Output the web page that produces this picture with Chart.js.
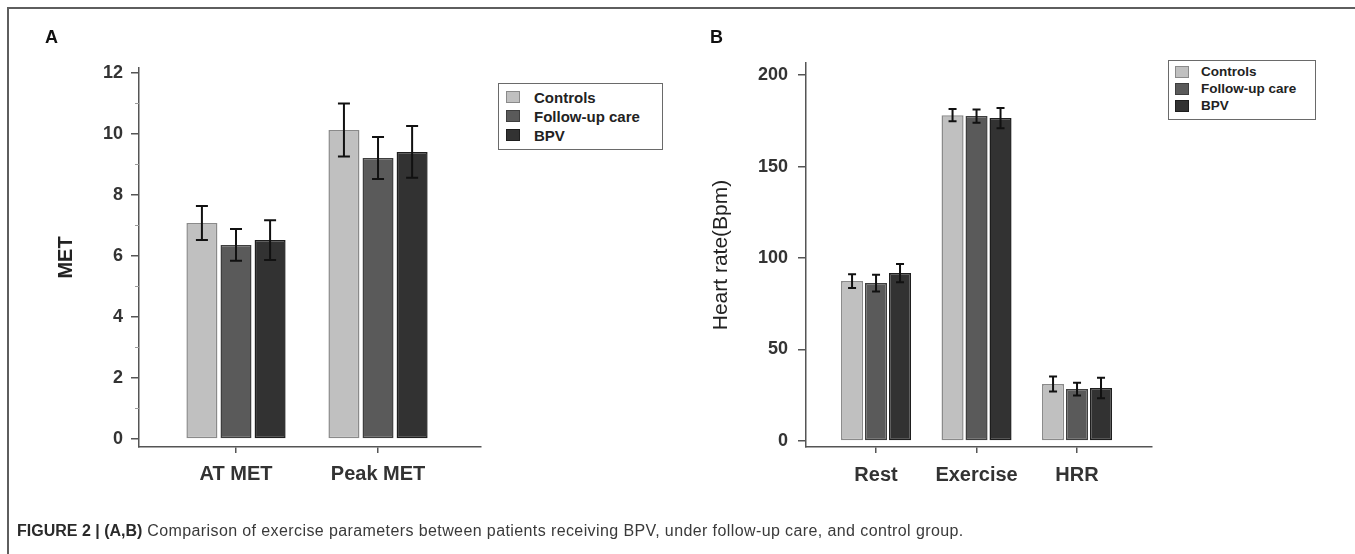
<!DOCTYPE html>
<html><head><meta charset="utf-8">
<script src="https://cdn.jsdelivr.net/npm/chart.js@4.4.1/dist/chart.umd.min.js"></script>
<style>
html,body{margin:0;padding:0;background:#fff;width:1355px;height:554px;overflow:hidden;font-family:"Liberation Sans",Arial,sans-serif;}
#frame{position:absolute;left:7px;top:7px;width:1400px;height:600px;border:2px solid #5e5e5e;box-sizing:border-box;}
canvas{position:absolute;top:0;}
#cA{left:0px}
#cB{left:660px}
.panel{position:absolute;font-weight:bold;font-size:18px;line-height:18px;color:#111;}
.legend{position:absolute;border:1.5px solid #6a6a6a;box-sizing:border-box;background:#fff;}
.row{position:absolute;font-weight:bold;color:#222;white-space:nowrap;}
.sw{position:absolute;box-sizing:border-box;border:1px solid #555;}
#caption{position:absolute;left:17px;top:523px;font-size:16px;line-height:16px;color:#3a3a3a;white-space:nowrap;letter-spacing:0.4px;}
#caption b{color:#2a2a2a;letter-spacing:0;}
</style></head>
<body>
<div id="frame"></div>
<canvas id="cA" width="660" height="554"></canvas>
<canvas id="cB" width="695" height="554"></canvas>
<div class="panel" style="left:45px;top:28px;">A</div>
<div class="panel" style="left:710px;top:28px;">B</div>
<div id="legA"></div>
<div id="legB"></div>
<div id="caption"><b>FIGURE 2 | (A,B)</b> Comparison of exercise parameters between patients receiving BPV, under follow-up care, and control group.</div>
<script>
// ---------- data ----------
const groups = ['Controls', 'Follow-up care', 'BPV'];

const metCategories = ['AT MET', 'Peak MET'];
const metControls = [7.08, 10.13];
const metFollowUp = [6.36, 9.21];
const metBPV = [6.52, 9.41];
const metControlsErr = [0.56, 0.87];
const metFollowUpErr = [0.52, 0.69];
const metBPVErr = [0.65, 0.85];
const metTicks = [0, 2, 4, 6, 8, 10, 12];
const metMinorTicks = [1, 3, 5, 7, 9, 11];

const hrCategories = ['Rest', 'Exercise', 'HRR'];
const hrControls = [87.4, 178.1, 31.1];
const hrFollowUp = [86.3, 177.6, 28.4];
const hrBPV = [91.8, 176.5, 29.0];
const hrControlsErr = [3.8, 3.3, 4.1];
const hrFollowUpErr = [4.6, 3.6, 3.5];
const hrBPVErr = [5.0, 5.5, 5.6];
const hrTicks = [0, 50, 100, 150, 200];

// ---------- styles ----------
const FONT = '"Liberation Sans", Arial, sans-serif';
const fills = ['#c0c0c0', '#5a5a5a', '#323232'];
const borders = ['#8a8a8a', '#3e3e3e', '#1e1e1e'];
const AXIS = '#555555';

const errorBars = {
  id: 'errorBars',
  afterDatasetsDraw(chart, args, opts) {
    const ctx = chart.ctx, ys = chart.scales.y;
    ctx.save();
    ctx.strokeStyle = '#111';
    ctx.lineWidth = opts.lineWidth || 2;
    chart.data.datasets.forEach((ds, i) => {
      const meta = chart.getDatasetMeta(i);
      meta.data.forEach((bar, j) => {
        const v = ds.data[j].y, e = ds.err[j];
        const t = ys.getPixelForValue(v + e), b = ys.getPixelForValue(v - e);
        const x = bar.x, c = opts.cap / 2;
        ctx.beginPath();
        ctx.moveTo(x, t); ctx.lineTo(x, b);
        ctx.moveTo(x - c, t); ctx.lineTo(x + c, t);
        ctx.moveTo(x - c, b); ctx.lineTo(x + c, b);
        ctx.stroke();
      });
    });
    ctx.restore();
  }
};

const minorTicks = {
  id: 'minorTicks',
  afterDraw(chart, args, opts) {
    if (!opts.values || !opts.values.length) return;
    const ctx = chart.ctx, ys = chart.scales.y, x0 = chart.chartArea.left;
    ctx.save();
    ctx.strokeStyle = '#999';
    ctx.lineWidth = 1;
    opts.values.forEach(v => {
      const y = Math.round(ys.getPixelForValue(v)) + 0.5;
      ctx.beginPath(); ctx.moveTo(x0 - 4, y); ctx.lineTo(x0, y); ctx.stroke();
    });
    ctx.restore();
  }
};

function makeChart(id, cfg) {
  const datasets = cfg.series.map((vals, i) => ({
    label: groups[i],
    data: vals.map((v, j) => ({x: j, y: v})),
    err: cfg.errors[i],
    backgroundColor: fills[i],
    borderColor: borders[i],
    borderWidth: 1.5,
    borderSkipped: false,
    categoryPercentage: cfg.catPct,
    barPercentage: cfg.barPct
  }));
  return new Chart(document.getElementById(id), {
    type: 'bar',
    data: {datasets},
    plugins: [errorBars, minorTicks],
    options: {
      responsive: false,
      animation: false,
      devicePixelRatio: 1,
      layout: {padding: cfg.padding},
      plugins: {
        legend: {display: false},
        tooltip: {enabled: false},
        errorBars: {cap: cfg.cap, lineWidth: 2},
        minorTicks: {values: cfg.minor}
      },
      scales: {
        x: {
          type: 'linear',
          min: cfg.xMin, max: cfg.xMax,
          offset: false,
          afterBuildTicks: ax => { ax.ticks = cfg.categories.map((c, j) => ({value: j})); },
          afterFit: ax => { ax.height = 50; },
          border: {display: true, color: AXIS, width: 1.5},
          grid: {offset: false, drawOnChartArea: false, drawTicks: true, tickLength: 6, color: AXIS, lineWidth: 1.5},
          ticks: {
            autoSkip: false, maxRotation: 0, padding: cfg.xPad,
            color: '#333', font: {family: FONT, size: 20, weight: 'bold'},
            callback: v => cfg.categories[v]
          }
        },
        y: {
          type: 'linear',
          min: cfg.yMin, max: cfg.yMax,
          afterBuildTicks: ax => { ax.ticks = cfg.ticks.map(v => ({value: v})); },
          afterFit: ax => { ax.width = cfg.yWidth; },
          border: {display: true, color: AXIS, width: 1.5},
          grid: {drawOnChartArea: false, drawTicks: true, tickLength: 8, color: AXIS, lineWidth: 1.5},
          ticks: {color: '#333', padding: cfg.yPad, font: {family: FONT, size: 18, weight: 'bold'}},
          title: {display: true, text: cfg.yTitle, color: '#222', padding: 4,
                  font: {family: FONT, size: cfg.titleSize, weight: cfg.titleWeight}}
        }
      }
    }
  });
}

makeChart('cA', {
  categories: metCategories,
  series: [metControls, metFollowUp, metBPV],
  errors: [metControlsErr, metFollowUpErr, metBPVErr],
  ticks: metTicks, minor: metMinorTicks,
  yMin: -0.262, yMax: 12.16, xMin: -0.683, xMax: 1.725,
  padding: {left: 50, top: 68, right: 179, bottom: 57},
  yWidth: 89, yPad: 8, xPad: 9,
  catPct: 0.72, barPct: 0.91, cap: 12,
  yTitle: 'MET', titleSize: 20, titleWeight: 'bold'
});

makeChart('cB', {
  categories: hrCategories,
  series: [hrControls, hrFollowUp, hrBPV],
  errors: [hrControlsErr, hrFollowUpErr, hrBPVErr],
  ticks: hrTicks, minor: [],
  yMin: -3.28, yMax: 206.6, xMin: -0.697, xMax: 2.746,
  padding: {left: 45, top: 63, right: 203, bottom: 57},
  yWidth: 101, yPad: 10, xPad: 10,
  catPct: 0.716, barPct: 0.92, cap: 8,
  yTitle: 'Heart rate(Bpm)', titleSize: 21, titleWeight: 'normal'
});

// ---------- HTML legends ----------
function buildLegend(elId, box) {
  const lg = document.createElement('div');
  lg.className = 'legend';
  Object.assign(lg.style, {left: box.left + 'px', top: box.top + 'px', width: box.w + 'px', height: box.h + 'px'});
  document.body.appendChild(lg);
  groups.forEach((g, i) => {
    const cy = box.rows[i];
    const sw = document.createElement('div');
    sw.className = 'sw';
    Object.assign(sw.style, {left: box.swLeft + 'px', top: (cy - box.swH / 2) + 'px', width: box.swW + 'px', height: box.swH + 'px', background: fills[i], borderColor: borders[i]});
    document.body.appendChild(sw);
    const t = document.createElement('div');
    t.className = 'row';
    t.textContent = g;
    Object.assign(t.style, {left: box.textLeft + 'px', top: (cy - box.font / 2) + 'px', fontSize: box.font + 'px', lineHeight: box.font + 'px'});
    document.body.appendChild(t);
  });
}
buildLegend('legA', {left: 498, top: 83, w: 165, h: 67, rows: [97, 116, 135], swLeft: 506, swW: 14, swH: 12, textLeft: 534, font: 15});
buildLegend('legB', {left: 1168, top: 60, w: 148, h: 60, rows: [72, 89, 106], swLeft: 1175, swW: 14, swH: 12, textLeft: 1201, font: 13.5});
</script>
</body></html>
